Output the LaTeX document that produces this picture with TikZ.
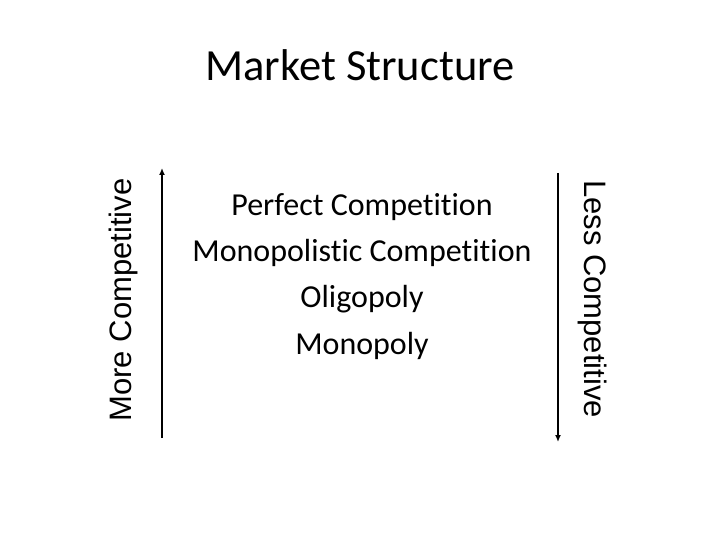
\documentclass[tikz,border=0pt]{standalone}
\usepackage{fontspec}
\setmainfont{Carlito}[Ligatures=NoCommon]
\newfontfamily\sidefont{Liberation Sans}
\usetikzlibrary{arrows.meta, positioning}

\begin{document}
\begin{tikzpicture}[
  x=1pt, y=-1pt,
  item/.style={font=\fontsize{32}{38}\selectfont, inner sep=0pt,
               text height=24pt, text depth=8pt},
  side/.style={font=\sidefont\fontsize{31}{36}\selectfont, inner sep=0pt},
  arr/.style={-{Latex[length=7pt, width=6pt]}, line width=1.6pt},
]
\useasboundingbox (0,0) rectangle (720,540);
\node[font=\fontsize{44.5}{50}\selectfont, anchor=base] (title) at (360,81) {Market Structure};
\node[item, anchor=base] (perf) at (362,215) {Perfect Competition};
\node[item, below=14pt of perf] (mcomp) {Monopolistic Competition};
\node[item, below=14pt of mcomp] (oli) {Oligopoly};
\node[item, below=14pt of oli] (mono) {Monopoly};
\coordinate (lb) at (162,438);
\coordinate (lt) at (162,168);
\coordinate (rt) at (558,173);
\coordinate (rb) at (558,442);
\draw[arr] (lb) -- (lt);
\draw[arr] (rt) -- (rb);
\node[side, rotate=90] (more) at (123,300) {More Competitive};
\node[side, rotate=-90] (less) at (593,299) {Less Competitive};
\end{tikzpicture}
\end{document}
